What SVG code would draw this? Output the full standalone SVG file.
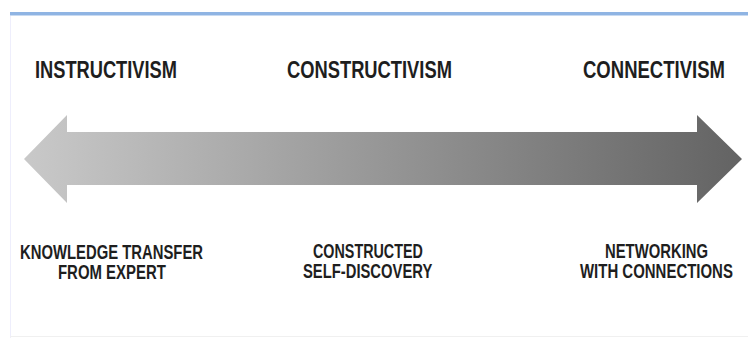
<svg xmlns="http://www.w3.org/2000/svg" width="748" height="338" viewBox="0 0 748 338">
  <style>
    .h { font-family: "Liberation Sans", Arial, sans-serif; font-weight: bold; font-size: 24px; fill: #1e1e1e; }
    .s { font-family: "Liberation Sans", Arial, sans-serif; font-weight: bold; font-size: 20px; fill: #1e1e1e; }
  </style>
  <defs>
    <linearGradient id="g" x1="24" y1="0" x2="742" y2="0" gradientUnits="userSpaceOnUse">
      <stop offset="0" stop-color="#c9c9c9"/>
      <stop offset="1" stop-color="#636363"/>
    </linearGradient>
  </defs>
  <rect x="0" y="0" width="748" height="338" fill="#ffffff"/>
  <rect x="10" y="12" width="738" height="3" fill="#8fb4e3"/>
  <rect x="10" y="15" width="738" height="1" fill="#c8daf1"/>
  <rect x="10" y="16" width="1" height="322" fill="#eeeefc"/>
  <rect x="10" y="336" width="738" height="1" fill="#f0f0f0"/>
  <g id="arrow">
    <polygon points="24,159 67,115 67,132 697,132 697,115 742,159 697,203 697,185 67,185 67,203" fill="url(#g)"/>
  </g>
  <g id="instructivism">
    <text class="h" transform="translate(35,78) scale(0.761,1)">INSTRUCTIVISM</text>
    <text class="s" transform="translate(20,259) scale(0.742,1)">KNOWLEDGE TRANSFER</text>
    <text class="s" transform="translate(58,279) scale(0.747,1)">FROM EXPERT</text>
  </g>
  <g id="constructivism">
    <text class="h" transform="translate(287,78) scale(0.764,1)">CONSTRUCTIVISM</text>
    <text class="s" transform="translate(313,258) scale(0.717,1)">CONSTRUCTED</text>
    <text class="s" transform="translate(303,278) scale(0.740,1)">SELF-DISCOVERY</text>
  </g>
  <g id="connectivism">
    <text class="h" transform="translate(583,78) scale(0.772,1)">CONNECTIVISM</text>
    <text class="s" transform="translate(605,258) scale(0.742,1)">NETWORKING</text>
    <text class="s" transform="translate(580,278) scale(0.748,1)">WITH CONNECTIONS</text>
  </g>
  <g id="connectors"></g>
</svg>
